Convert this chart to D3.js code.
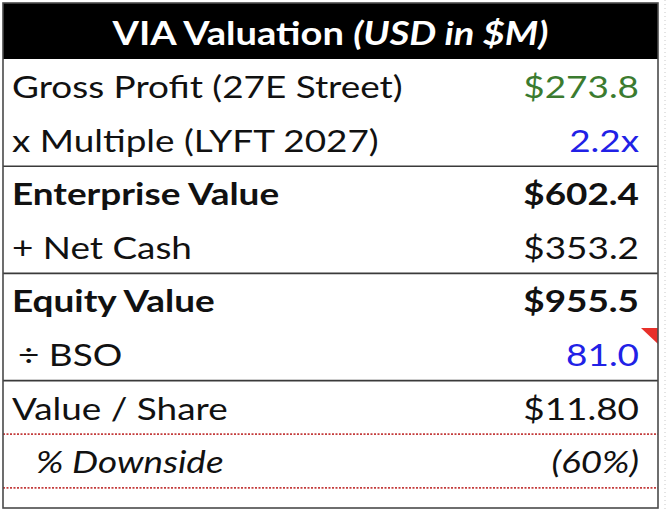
<!DOCTYPE html>
<html>
<head>
<meta charset="utf-8">
<script src="https://cdn.jsdelivr.net/npm/d3@7"></script>
<style>
  body { margin: 0; background: #fff; }
  svg { display: block; }
</style>
</head>
<body>
<div id="table"></div>
<script>
// <-- ************ DATA ************ -->
const TITLE = "VIA Valuation ";
const TITLE_UNIT = "(USD in $M)";
const LABELS = ["Gross Profit (27E Street)", "x Multiple (LYFT 2027)", "Enterprise Value", "+ Net Cash",
                "Equity Value", "\u00f7 BSO", "Value / Share", "% Downside"];
const VALUES = [273.8, 2.2, 602.4, 353.2, 955.5, 81.0, 11.80, -0.60];
const KINDS = ["usd1", "mult", "usd1", "usd1", "usd1", "num1", "usd2", "pct"];
const BOLD_ROWS = [2, 4];
const ITALIC_ROWS = [7];
const VALUE_COLORS = ["green", "blue", "black", "black", "black", "blue", "black", "black"];
const SECTION_AFTER = [1, 3, 5];           // solid rule under these rows
const DOTTED_AFTER = [6, 7];               // red dotted rule under these rows

// <-- ************ LAYOUT ************ -->
const FRAME_WIDTH = 668;
const FRAME_HEIGHT = 510;
const BOX = {left: 3, right: 658, top: 3, bottom: 508};
const HEADER_BOTTOM = 59;
const ROW_H = 53.6;
const INDENT_PX = [0, 0, 0, 0, 0, 6, 0, 24];   // cell indents
const FONT = "Lato, 'Open Sans', sans-serif";
const FONT_SIZE = 31;
const SX = 1.19;   // horizontal stretch of the screenshot text

const PALETTE = {green: "#3b7b2f", blue: "#2121e6", black: "#111"};

const fmt = (v, k) => {
  if (k === "usd1") return "$" + d3.format(",.1f")(v);
  if (k === "usd2") return "$" + d3.format(",.2f")(v);
  if (k === "mult") return d3.format(".1f")(v) + "x";
  if (k === "num1") return d3.format(".1f")(v);
  if (k === "pct") return v < 0 ? "(" + d3.format(".0%")(-v) + ")" : d3.format(".0%")(v);
  return String(v);
};

const Y = d3.scaleLinear().domain([0, LABELS.length]).range([HEADER_BOTTOM, HEADER_BOTTOM + ROW_H * LABELS.length]);

const SVG = d3.select("#table").append("svg")
  .attr("width", FRAME_WIDTH)
  .attr("height", FRAME_HEIGHT);

// faint spreadsheet gridline outside the box
SVG.append("line")
  .attr("x1", 665).attr("x2", 665).attr("y1", 0).attr("y2", FRAME_HEIGHT)
  .attr("stroke", "#c8c8c8").attr("stroke-dasharray", "1,3");

// header band
SVG.append("rect")
  .attr("x", BOX.left).attr("y", BOX.top)
  .attr("width", BOX.right - BOX.left).attr("height", HEADER_BOTTOM - BOX.top)
  .attr("fill", "#000");

const title = SVG.append("g")
  .attr("transform", "translate(" + ((BOX.left + BOX.right) / 2) + ",45) scale(" + SX + ",1)")
  .append("text")
  .attr("text-anchor", "middle")
  .attr("font-family", FONT)
  .attr("font-size", 32)
  .attr("font-weight", "bold")
  .attr("fill", "#fff");
title.append("tspan").text(TITLE);
title.append("tspan").attr("font-style", "italic").text(TITLE_UNIT);

// rows
const rows = SVG.append("g").selectAll("g")
  .data(LABELS)
  .enter()
  .append("g");

rows.append("g")
  .attr("transform", (d, i) => "translate(" + (12 + INDENT_PX[i]) + "," + (Y(i) + 39) + ") scale(" + SX + ",1)")
  .append("text")
  .attr("font-family", FONT)
  .attr("font-size", FONT_SIZE)
  .attr("font-weight", (d, i) => BOLD_ROWS.includes(i) ? "bold" : "normal")
  .attr("font-style", (d, i) => ITALIC_ROWS.includes(i) ? "italic" : "normal")
  .attr("fill", PALETTE.black)
  .text((d) => d);

rows.append("g")
  .attr("transform", (d, i) => "translate(639," + (Y(i) + 39) + ") scale(" + SX + ",1)")
  .append("text")
  .attr("text-anchor", "end")
  .attr("font-family", FONT)
  .attr("font-size", FONT_SIZE)
  .attr("font-weight", (d, i) => BOLD_ROWS.includes(i) ? "bold" : "normal")
  .attr("font-style", (d, i) => ITALIC_ROWS.includes(i) ? "italic" : "normal")
  .attr("fill", (d, i) => PALETTE[VALUE_COLORS[i]])
  .text((d, i) => fmt(VALUES[i], KINDS[i]));

// rules
SVG.append("g").selectAll("line")
  .data(SECTION_AFTER)
  .enter()
  .append("line")
  .attr("x1", BOX.left).attr("x2", BOX.right)
  .attr("y1", (d) => Y(d + 1)).attr("y2", (d) => Y(d + 1))
  .attr("stroke", "#3a3a3a").attr("stroke-width", 1.6);

SVG.append("g").selectAll("line")
  .data(DOTTED_AFTER)
  .enter()
  .append("line")
  .attr("x1", BOX.left).attr("x2", BOX.right)
  .attr("y1", (d) => Y(d + 1)).attr("y2", (d) => Y(d + 1))
  .attr("stroke", "#c43c3c").attr("stroke-width", 1.8).attr("stroke-dasharray", "2,1.5");

// comment marker on the BSO cell
const bsoTop = Y(LABELS.indexOf("\u00f7 BSO"));
SVG.append("path")
  .attr("d", "M" + (BOX.right - 17) + "," + (bsoTop + 1) + "L" + BOX.right + "," + (bsoTop + 1) + "L" + BOX.right + "," + (bsoTop + 17) + "Z")
  .attr("fill", "#e8302a");

// outer box
SVG.append("rect")
  .attr("x", BOX.left).attr("y", BOX.top)
  .attr("width", BOX.right - BOX.left).attr("height", BOX.bottom - BOX.top)
  .attr("fill", "none")
  .attr("stroke", "#4a4a4a").attr("stroke-width", 1.6);
</script>
</body>
</html>
